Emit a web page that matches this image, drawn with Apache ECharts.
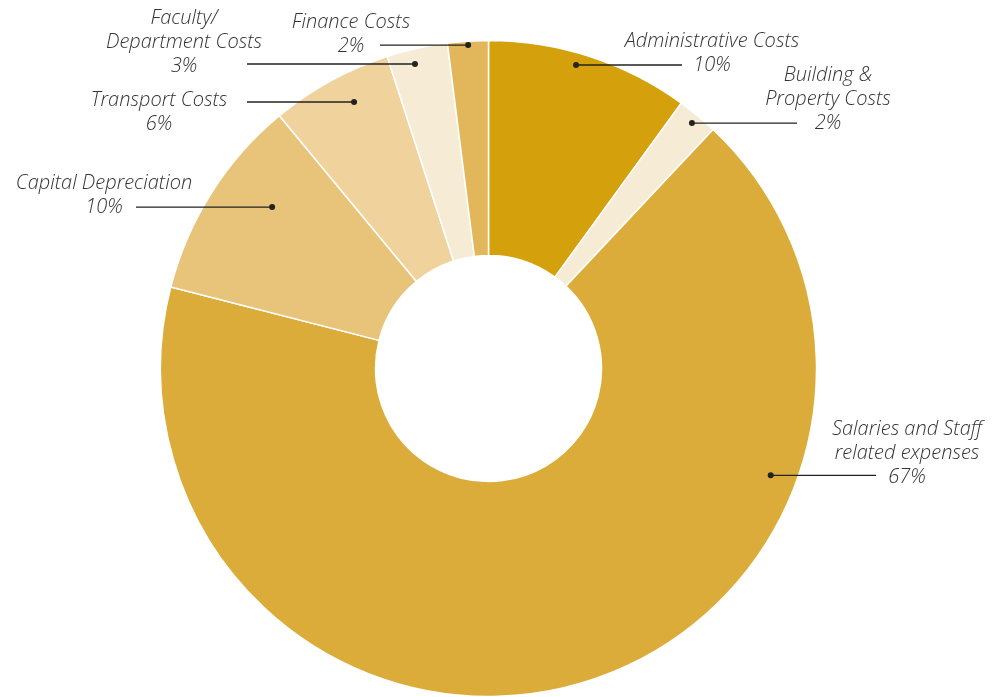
<!DOCTYPE html>
<html>
<head>
<meta charset="utf-8">
<script src="https://cdn.jsdelivr.net/npm/echarts@6/dist/echarts.min.js"></script>
<style>
html,body{margin:0;padding:0;background:#fff;}
#chart{width:997px;height:697px;}
</style>
</head>
<body>
<div id="chart"></div>
<script>
// ---- data ----
var categories = [
  'Administrative Costs',
  'Building &\nProperty Costs',
  'Salaries and Staff\nrelated expenses',
  'Capital Depreciation',
  'Transport Costs',
  'Faculty/\nDepartment Costs',
  'Finance Costs'
];
var values = [10, 2, 67, 10, 6, 3, 2];
var colors = ['#D4A10D', '#F6ECD6', '#DBAC39', '#E8C47A', '#F0D39C', '#F6EBD4', '#E2B65A'];

// ---- annotation layout (label block centre, dot placement within slice) ----
var labelPos = [[712, 53], [828, 99], [907, 453], [104, 195], [159, 112], [184, 42], [351, 34]];
var lineEndX = [682, 797, 876, 136, 247, 247, 380];
var dotFrac = [0.447, 0.507, 0.280, 0.62, 0.594, 0.41, 0.50];   // fraction along slice angle
var dotRad = [0.963, 0.972, 0.92, 0.823, 0.91, 0.955, 0.988];   // fraction of outer radius

var CX = 488.5, CY = 368.5, R0 = 113, R = 328;

var total = values.reduce(function (a, b) { return a + b; }, 0);
var dots = [];
var acc = 0;
for (var i = 0; i < values.length; i++) {
  var span = values[i] / total * 360;
  var ang = (acc + dotFrac[i] * span) * Math.PI / 180;
  var r = dotRad[i] * R;
  dots.push([CX + r * Math.sin(ang), CY - r * Math.cos(ang)]);
  acc += span;
}

var chart = echarts.init(document.getElementById('chart'));
var fontFamily = '"Open Sans", Lato, sans-serif';

var graphics = [];
dots.forEach(function (d, i) {
  graphics.push({
    type: 'line',
    shape: { x1: d[0], y1: d[1], x2: lineEndX[i], y2: d[1] },
    style: { stroke: '#222', lineWidth: 1.3 },
    z: 100
  });
  graphics.push({
    type: 'circle',
    shape: { cx: d[0], cy: d[1], r: 3 },
    style: { fill: '#222' },
    z: 101
  });
});

chart.setOption({
  animation: false,
  backgroundColor: '#fff',
  series: [{
    type: 'pie',
    center: [CX, CY],
    radius: [R0, R],
    startAngle: 90,
    clockwise: true,
    avoidLabelOverlap: false,
    itemStyle: { borderColor: '#fff', borderWidth: 1.5 },
    emphasis: { disabled: true },
    label: {
      show: true,
      position: 'outside',
      formatter: function (p) { return p.name + '\n' + p.value + '%'; },
      fontFamily: fontFamily,
      fontStyle: 'italic',
      fontWeight: 300,
      fontSize: 20,
      lineHeight: 24,
      color: '#333',
      align: 'center'
    },
    labelLine: { show: false },
    labelLayout: function (params) {
      var i = params.dataIndex;
      return {
        x: labelPos[i][0],
        y: labelPos[i][1],
        align: 'center',
        verticalAlign: 'middle'
      };
    },
    data: categories.map(function (c, i) {
      return { name: c, value: values[i], itemStyle: { color: colors[i] } };
    })
  }],
  graphic: graphics
});
</script>
</body>
</html>
